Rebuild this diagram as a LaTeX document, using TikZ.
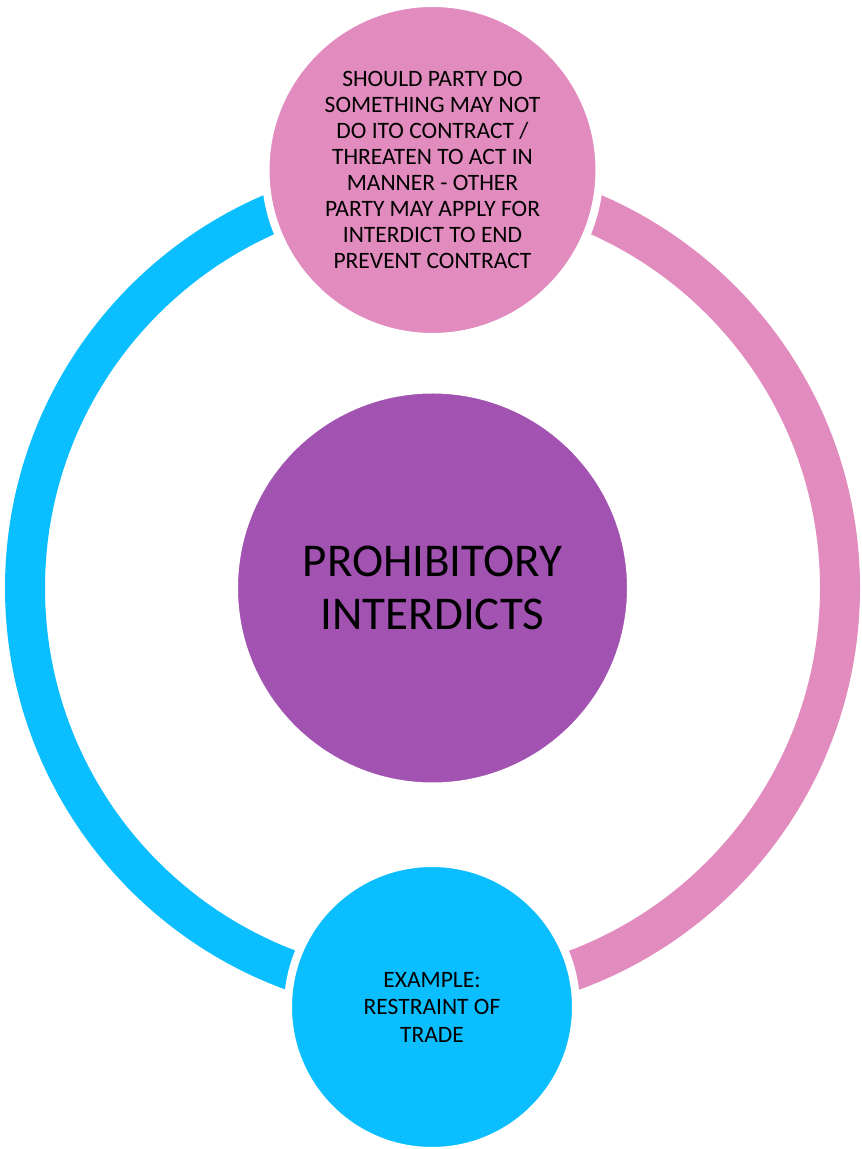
\documentclass[tikz,border=0pt]{standalone}
\usepackage{fontspec}
\setmainfont{Carlito}

\definecolor{ringpink}{RGB}{226,139,190}
\definecolor{ringcyan}{RGB}{11,190,255}
\definecolor{hubpurple}{RGB}{162,83,178}

\begin{document}
\begin{tikzpicture}[x=1pt,y=1pt,
        bubble/.style={circle,draw=white,line width=8pt,align=center,inner sep=0pt},
        smalltext/.style={font=\fontsize{23.5}{26}\selectfont},
        ringarc/.style={line width=40pt}]
        \useasboundingbox (0,0) rectangle (862,1149);
        \coordinate (ringc) at (432.5,561);
        
        \draw [ringarc,ringcyan] (ringc) ++(90:407.5) arc[start angle=90,end angle=270,radius=407.5];
        \draw [ringarc,ringpink] (ringc) ++(90:407.5) arc[start angle=90,end angle=-90,radius=407.5];
        
        \node[bubble,fill=ringpink,minimum size=334pt,smalltext] (threat) at (432.5,979)
            {SHOULD PARTY DO\\SOMETHING MAY NOT\\DO ITO CONTRACT /\\THREATEN TO ACT IN\\MANNER - OTHER\\PARTY MAY APPLY FOR\\INTERDICT TO END\\PREVENT CONTRACT};
        
        \node[bubble,fill=hubpurple,minimum size=397pt,font=\fontsize{47}{53}\selectfont] (hub) at (432.5,561)
            {PROHIBITORY\\INTERDICTS};
        
        \node[bubble,fill=ringcyan,minimum size=288pt,font=\fontsize{23.5}{27.5}\selectfont] (example) at (432,142)
            {EXAMPLE:\\RESTRAINT OF\\TRADE};
        
    \end{tikzpicture}
\end{document}
